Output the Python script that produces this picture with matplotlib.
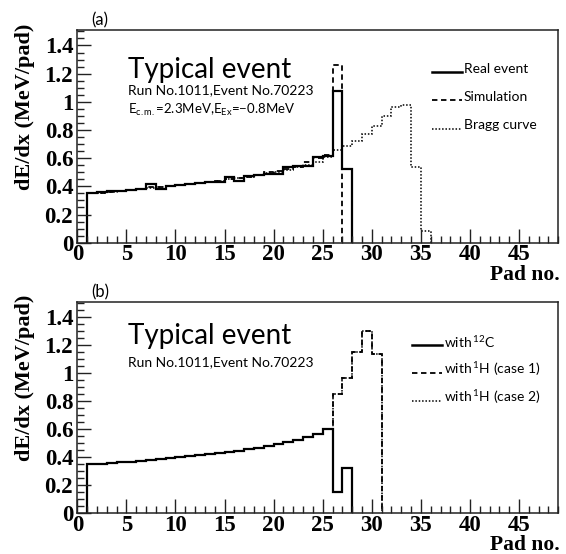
import numpy as np
import matplotlib
matplotlib.use("Agg")
import matplotlib.pyplot as plt
from matplotlib.ticker import MultipleLocator, FormatStrFormatter

# ---- data: energy loss per pad (MeV/pad), one value per pad bin ----
# panel (a): pad bins start at pad 1
real_event = [0.353, 0.357, 0.364, 0.364, 0.376, 0.383, 0.417, 0.381, 0.405,
              0.410, 0.417, 0.424, 0.431, 0.431, 0.464, 0.436, 0.470, 0.484,
              0.489, 0.490, 0.536, 0.543, 0.545, 0.607, 0.614, 1.08, 0.52]
simulation = [0.350, 0.356, 0.362, 0.368, 0.374, 0.381, 0.396, 0.396, 0.403,
              0.409, 0.416, 0.423, 0.431, 0.440, 0.449, 0.459, 0.469, 0.480,
              0.500, 0.507, 0.525, 0.540, 0.571, 0.600, 0.622, 1.26]
bragg_curve = [0.350, 0.355, 0.361, 0.367, 0.373, 0.379, 0.386, 0.393, 0.400,
               0.407, 0.415, 0.423, 0.431, 0.440, 0.449, 0.459, 0.469, 0.480,
               0.492, 0.505, 0.519, 0.535, 0.553, 0.575, 0.610, 0.655, 0.686,
               0.720, 0.770, 0.830, 0.900, 0.960, 0.980, 0.540, 0.086]

# panel (b)
with_c12 = [0.350, 0.355, 0.360, 0.365, 0.370, 0.376, 0.382, 0.388, 0.394,
            0.400, 0.407, 0.414, 0.422, 0.430, 0.439, 0.448, 0.458, 0.469,
            0.481, 0.494, 0.508, 0.524, 0.543, 0.565, 0.605, 0.154, 0.326]
with_h1_case1 = with_c12[:25] + [0.850, 0.964, 1.154, 1.304, 1.140]
with_h1_case2 = with_c12[:25] + [0.850, 0.964, 1.154, 1.304, 1.140]

first_pad = 1
x_ticks = [0, 5, 10, 15, 20, 25, 30, 35, 40, 45]
y_ticks = [0, 0.2, 0.4, 0.6, 0.8, 1.0, 1.2, 1.4]

SANS = "Lato"
SERIF = "Liberation Serif"
plt.rcParams["mathtext.fontset"] = "custom"
plt.rcParams["mathtext.rm"] = SANS
plt.rcParams["mathtext.it"] = SANS
TXT = "#000000"


def edges_for(vals):
    return np.arange(first_pad, first_pad + len(vals) + 1)


def style_axes(ax, panel, xlabel_y):
    ax.set_xlim(0, 49)
    ax.set_ylim(0, 1.51)
    ax.set_xticks(x_ticks)
    ax.set_yticks(y_ticks)
    ax.xaxis.set_minor_locator(MultipleLocator(1))
    ax.yaxis.set_minor_locator(MultipleLocator(0.05))
    ax.yaxis.set_major_formatter(FormatStrFormatter("%g"))
    ax.tick_params(which="both", direction="in", top=False, right=False,
                   color="#222222", width=1.0)
    ax.tick_params(which="major", length=10)
    ax.tick_params(which="minor", length=5)
    ax.tick_params(axis="x", which="major", pad=1)
    ax.tick_params(axis="y", which="major", pad=3)
    for lab in ax.get_xticklabels() + ax.get_yticklabels():
        lab.set_fontfamily(SERIF)
        lab.set_fontweight("bold")
        lab.set_fontsize(16.5)
    for sp in ax.spines.values():
        sp.set_linewidth(1.1)
        sp.set_color("#222222")
    ax.set_ylabel("dE/dx (MeV/pad)", fontfamily=SERIF, fontweight="bold",
                  fontsize=16, va="center")
    ax.yaxis.set_label_coords(-0.109, 0.64)
    ax.set_xlabel("Pad no.", fontfamily=SERIF, fontweight="bold",
                  fontsize=15.5, ha="right", va="center")
    ax.xaxis.set_label_coords(1.003, xlabel_y)
    ax.text(0.047, 1.047, panel, transform=ax.transAxes, ha="center",
            va="center", fontsize=12, family=SANS, color=TXT)


def legend_rows(ax, x0, x1, rows):
    for label, ls, lw, y_line, y_txt in rows:
        ax.plot([x0, x1], [y_line, y_line], transform=ax.transAxes,
                color="black", ls=ls, lw=lw, clip_on=False)
        ax.text(x1 + 0.004, y_txt, label, transform=ax.transAxes,
                ha="left", va="center", fontsize=10, family=SANS, color=TXT)


fig = plt.figure(figsize=(5.66, 5.54), dpi=100)
ax_a = fig.add_axes([0.1366, 0.5619, 0.8498, 0.3840])
ax_b = fig.add_axes([0.1366, 0.0735, 0.8498, 0.3814])

# ---- panel (a) ----
ax_a.stairs(bragg_curve, edges_for(bragg_curve), baseline=0, color="black",
            ls=(0, (1, 1.2)), lw=1.1)
ax_a.stairs(simulation, edges_for(simulation), baseline=0, color="black",
            ls=(0, (3, 2)), lw=1.3)
ax_a.stairs(real_event, edges_for(real_event), baseline=0, color="black",
            ls="-", lw=1.6)
style_axes(ax_a, "(a)", -0.152)
ax_a.text(0.105, 0.774, "Typical event", transform=ax_a.transAxes,
          fontsize=20, family=SANS, fontweight="normal", va="baseline",
          color=TXT)
ax_a.text(0.105, 0.718, "Run No.1011,Event No.70223", transform=ax_a.transAxes,
          fontsize=10, family=SANS, va="center", color=TXT)
ax_a.text(0.105, 0.624, r"E$_{\mathrm{c.m.}}$=2.3MeV,E$_{\mathrm{Ex}}$=$-$0.8MeV",
          transform=ax_a.transAxes, fontsize=9.5, family=SANS, va="center",
          color=TXT)
legend_rows(ax_a, 0.737, 0.799, [
    ("Real event", "-", 1.8, 0.804, 0.817),
    ("Simulation", (0, (3, 2)), 1.3, 0.671, 0.686),
    ("Bragg curve", (0, (1, 1.2)), 1.1, 0.533, 0.553),
])

# ---- panel (b) ----
ax_b.stairs(with_h1_case2, edges_for(with_h1_case2), baseline=0,
            color="black", ls=(0, (1, 1.2)), lw=1.1)
ax_b.stairs(with_h1_case1, edges_for(with_h1_case1), baseline=0,
            color="black", ls=(0, (3, 2)), lw=1.3)
ax_b.stairs(with_c12, edges_for(with_c12), baseline=0, color="black",
            ls="-", lw=1.6)
style_axes(ax_b, "(b)", -0.150)
ax_b.text(0.105, 0.799, "Typical event", transform=ax_b.transAxes,
          fontsize=20, family=SANS, fontweight="normal", va="baseline",
          color=TXT)
ax_b.text(0.105, 0.717, "Run No.1011,Event No.70223", transform=ax_b.transAxes,
          fontsize=10, family=SANS, va="center", color=TXT)
legend_rows(ax_b, 0.695, 0.758, [
    (r"with$\,^{12}$C", "-", 1.8, 0.797, 0.812),
    (r"with$\,^{1}$H (case 1)", (0, (3, 2)), 1.3, 0.663, 0.681),
    (r"with$\,^{1}$H (case 2)", (0, (1, 1.2)), 1.1, 0.533, 0.549),
])

fig.savefig("out.png", dpi=100)
